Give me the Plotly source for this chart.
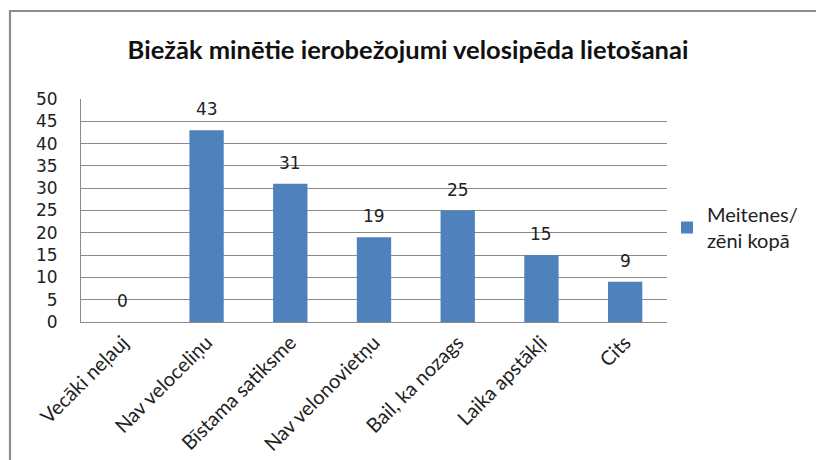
import plotly.graph_objects as go

# Survey: most frequently mentioned obstacles to cycling
title_text = "Biežāk minētie ierobežojumi velosipēda lietošanai"
categories = ["Vecāki neļauj", "Nav veloceliņu", "Bīstama satiksme",
              "Nav velonovietņu", "Bail, ka nozags", "Laika apstākļi", "Cits"]
counts = [0, 43, 31, 19, 25, 15, 9]
series_name = "Meitenes/<br>zēni kopā"
y_ticks = [0, 5, 10, 15, 20, 25, 30, 35, 40, 45, 50]

W, H = 816, 460
ML, MR, MT, MB = 81, 149, 99, 138
pw, ph = W - ML - MR, H - MT - MB

bar_color = "#4F81BD"
grid_color = "#8A8A8A"

fig = go.Figure()
fig.add_trace(go.Bar(
    x=categories, y=counts, name=series_name,
    marker=dict(color=bar_color, line=dict(width=0)),
    width=0.41, showlegend=True,
))

# value labels above each bar
for c, v in zip(categories, counts):
    fig.add_annotation(x=c, y=v, text=str(v), showarrow=False, yshift=21,
                       font=dict(family="DejaVu Sans", size=17, color="#222"))

# outer chart frame
def px_to_paper_x(px):
    return (px - ML) / pw

def px_to_paper_y(py):
    return (H - MB - py) / ph

fig.add_shape(type="rect", xref="paper", yref="paper",
              x0=px_to_paper_x(10), x1=px_to_paper_x(840),
              y0=px_to_paper_y(480), y1=px_to_paper_y(11),
              line=dict(color="#8C8C8C", width=2.2), fillcolor="rgba(0,0,0,0)",
              layer="below")

fig.update_layout(
    width=W, height=H,
    margin=dict(l=ML, r=MR, t=MT, b=MB, pad=0, autoexpand=False),
    paper_bgcolor="white", plot_bgcolor="white",
    title=dict(text="<b>" + title_text + "</b>", x=408 / W, xanchor="center",
               y=1 - 50 / H, yanchor="middle",
               font=dict(family="Lato", size=25.5, color="#111")),
    legend=dict(x=px_to_paper_x(667), y=px_to_paper_y(195), xanchor="left", yanchor="top",
                font=dict(family="Lato", size=20, color="#222"),
                itemwidth=30, tracegroupgap=0, bgcolor="rgba(0,0,0,0)"),
    xaxis=dict(showgrid=False, showline=True, linecolor=grid_color, linewidth=1,
               tickangle=-45, ticks="", mirror=False,
               tickfont=dict(family="Lato", size=20, color="#222")),
    yaxis=dict(range=[0, 50], tickvals=y_ticks, showgrid=True, gridcolor=grid_color,
               gridwidth=1, showline=True, linecolor=grid_color, linewidth=1,
               ticks="", ticklabelstandoff=19, zeroline=False,
               tickfont=dict(family="DejaVu Sans", size=17, color="#222")),
)

fig.write_html("out.html")
